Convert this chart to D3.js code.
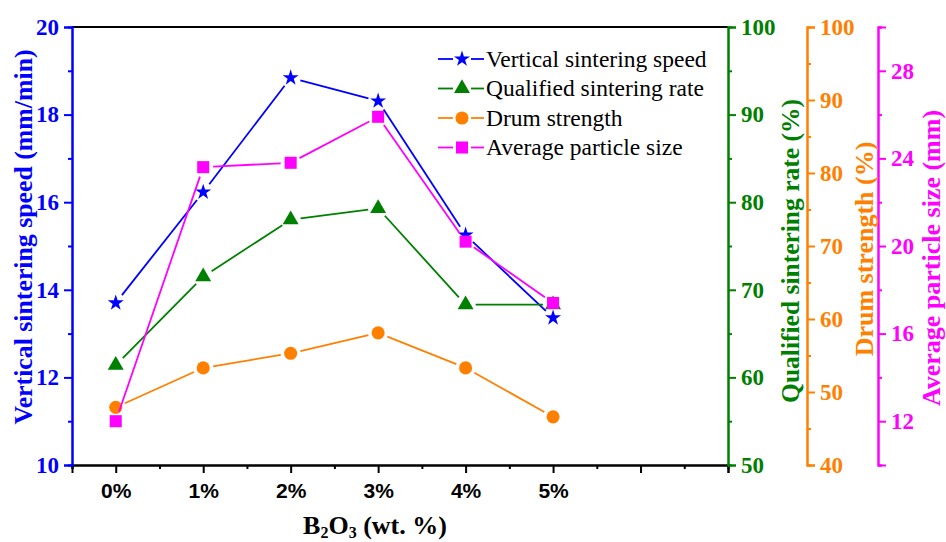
<!DOCTYPE html>
<html>
<head>
<meta charset="utf-8">
<script src="https://cdn.jsdelivr.net/npm/d3@7"></script>
<style>
  body { margin: 0; background: #fff; }
  .serif { font-family: "Liberation Serif", "Times New Roman", serif; }
  .sans { font-family: "Liberation Sans", Arial, sans-serif; }
</style>
</head>
<body>
<svg id="chart" width="946" height="542"></svg>
<script>
// data
const categories = ["0%", "1%", "2%", "3%", "4%", "5%"];
const b2o3 = [0, 1, 2, 3, 4, 5];
const sinteringSpeed = [13.70, 16.23, 18.84, 18.31, 15.25, 13.36];   // mm/min
const qualifiedRate = [61.4, 71.5, 78.0, 79.3, 68.3, 68.3];          // %
const drumStrength = [47.9, 53.3, 55.3, 58.1, 53.3, 46.6];           // %
const particleSize = [12.0, 23.6, 23.8, 25.9, 20.2, 17.4];           // mm

const speedTicks = [10, 12, 14, 16, 18, 20];
const rateTicks = [50, 60, 70, 80, 90, 100];
const drumTicks = [40, 50, 60, 70, 80, 90, 100];
const sizeTicks = [12, 16, 20, 24, 28];

let plotL = 72, plotR = 728, plotT = 27, plotB = 465
let svg = d3.select('#chart')

let x = d3.scaleLinear().domain([-0.5, 7]).range([plotL, plotR])
let yL = d3.scaleLinear().domain([10, 20]).range([plotB, plotT])
let yG = d3.scaleLinear().domain([50, 100]).range([plotB, plotT])
let yO = d3.scaleLinear().domain([40, 100]).range([plotB, plotT])
let yM = d3.scaleLinear().domain([10, 30]).range([plotB, plotT])

const BLUE = '#0000ff', GREEN = '#008000', ORANGE = '#ff8000', MAGENTA = '#ff00ff'

function styleAxis(g, color, cls, size) {
    g.select('.domain').attr('stroke', color).attr('stroke-width', 2)
    g.selectAll('.tick line').attr('stroke', color).attr('stroke-width', 2)
    g.selectAll('.tick text')
        .attr('fill', color)
        .attr('class', cls)
        .style('font-weight', 'bold')
        .style('font-size', size + 'px')
}

// vertical axis with major + minor ticks
function yAxis(scale, axisFn, xpos, majors, minors, color) {
    svg.append('g')
        .attr('transform', `translate(${xpos},0)`)
        .call(axisFn(scale).tickValues(minors).tickSize(4).tickFormat(''))
        .call(g => styleAxis(g, color, 'serif', 23))
    svg.append('g')
        .attr('transform', `translate(${xpos},0)`)
        .call(axisFn(scale).tickValues(majors).tickSize(8).tickPadding(5).tickFormat(d3.format('d')))
        .call(g => styleAxis(g, color, 'serif', 23))
}

// frame top line
svg.append('line')
    .attr('x1', plotL).attr('x2', plotR).attr('y1', plotT).attr('y2', plotT)
    .attr('stroke', '#000').attr('stroke-width', 2)

// bottom axis
svg.append('g')
    .attr('transform', `translate(0,${plotB})`)
    .call(d3.axisBottom(x).tickValues(d3.range(-0.5, 7, 1)).tickSize(4).tickFormat(''))
    .call(g => styleAxis(g, '#000', 'sans', 21))
svg.append('g')
    .attr('transform', `translate(0,${plotB})`)
    .call(d3.axisBottom(x).tickValues(d3.range(0, 8)).tickSize(8).tickPadding(10)
        .tickFormat(d => categories[d] || ''))
    .call(g => styleAxis(g, '#000', 'sans', 21))

yAxis(yL, d3.axisLeft, plotL, speedTicks, d3.range(11, 20, 2), BLUE)
yAxis(yG, d3.axisRight, plotR, rateTicks, d3.range(55, 100, 10), GREEN)
yAxis(yO, d3.axisRight, 807, drumTicks, d3.range(45, 100, 10), ORANGE)
yAxis(yM, d3.axisRight, 878, sizeTicks, d3.range(10, 31, 4), MAGENTA)

// axis titles
function vTitle(txt, cx, cy, color, size) {
    svg.append('text')
        .attr('class', 'serif')
        .attr('transform', `translate(${cx},${cy}) rotate(-90)`)
        .attr('text-anchor', 'middle')
        .attr('dy', '0.35em')
        .attr('font-weight', 'bold')
        .attr('font-size', size)
        .attr('fill', color)
        .text(txt)
}
vTitle('Vertical sintering speed (mm/min)', 23, 237, BLUE, 25.8)
vTitle('Qualified sintering rate (%)', 790, 251, GREEN, 25.5)
vTitle('Drum strength (%)', 864, 249, ORANGE, 26)
vTitle('Average particle size (mm)', 931, 258, MAGENTA, 26)

let xt = svg.append('text')
    .attr('class', 'serif')
    .attr('x', 375).attr('y', 534)
    .attr('text-anchor', 'middle')
    .attr('font-weight', 'bold')
    .attr('font-size', 26)
xt.append('tspan').text('B')
xt.append('tspan').attr('font-size', 16).attr('dy', 4).text('2')
xt.append('tspan').attr('dy', -4).text('O')
xt.append('tspan').attr('font-size', 16).attr('dy', 4).text('3')
xt.append('tspan').attr('dy', -4).text(' (wt. %)')

// series
let series = [
    {name: 'Vertical sintering speed', values: sinteringSpeed, y: yL, color: BLUE, shape: d3.symbolStar, size: 80},
    {name: 'Qualified sintering rate', values: qualifiedRate, y: yG, color: GREEN, shape: d3.symbolTriangle, size: 110},
    {name: 'Drum strength', values: drumStrength, y: yO, color: ORANGE, shape: d3.symbolCircle, size: 135},
    {name: 'Average particle size', values: particleSize, y: yM, color: MAGENTA, shape: d3.symbolSquare, size: 145},
]

let gap = 10
// line segments stop short of each symbol, like the original plot
function segments(pts) {
    let segs = []
    for (let i = 0; i < pts.length - 1; i++) {
        let [x1, y1] = pts[i], [x2, y2] = pts[i + 1]
        let len = Math.hypot(x2 - x1, y2 - y1)
        let ux = (x2 - x1) / len, uy = (y2 - y1) / len
        segs.push([x1 + ux * gap, y1 + uy * gap, x2 - ux * gap, y2 - uy * gap])
    }
    return segs
}

let plot = svg.append('g')
series.forEach(s => {
    let pts = b2o3.map((b, i) => [x(b), s.y(s.values[i])])
    let g = plot.append('g')
    g.selectAll('line')
        .data(segments(pts))
        .join('line')
        .attr('x1', d => d[0]).attr('y1', d => d[1])
        .attr('x2', d => d[2]).attr('y2', d => d[3])
        .attr('stroke', s.color)
        .attr('stroke-width', 1.8)
    g.selectAll('path')
        .data(pts)
        .join('path')
        .attr('transform', d => `translate(${d[0]},${d[1]})`)
        .attr('d', d3.symbol().type(s.shape).size(s.size))
        .attr('fill', s.color)
})

// legend
let legend = svg.append('g')
series.forEach((s, i) => {
    let ly = 59 + i * 29.5
    let g = legend.append('g')
    g.append('line').attr('x1', 438).attr('x2', 453).attr('y1', ly).attr('y2', ly)
        .attr('stroke', s.color).attr('stroke-width', 1.8)
    g.append('line').attr('x1', 471).attr('x2', 484).attr('y1', ly).attr('y2', ly)
        .attr('stroke', s.color).attr('stroke-width', 1.8)
    g.append('path')
        .attr('transform', `translate(462,${ly})`)
        .attr('d', d3.symbol().type(s.shape).size(s.size))
        .attr('fill', s.color)
    g.append('text')
        .attr('class', 'serif')
        .attr('x', 486).attr('y', ly)
        .attr('dy', '0.33em')
        .attr('font-size', 23.5)
        .attr('fill', '#000')
        .text(s.name)
})
</script>
</body>
</html>
